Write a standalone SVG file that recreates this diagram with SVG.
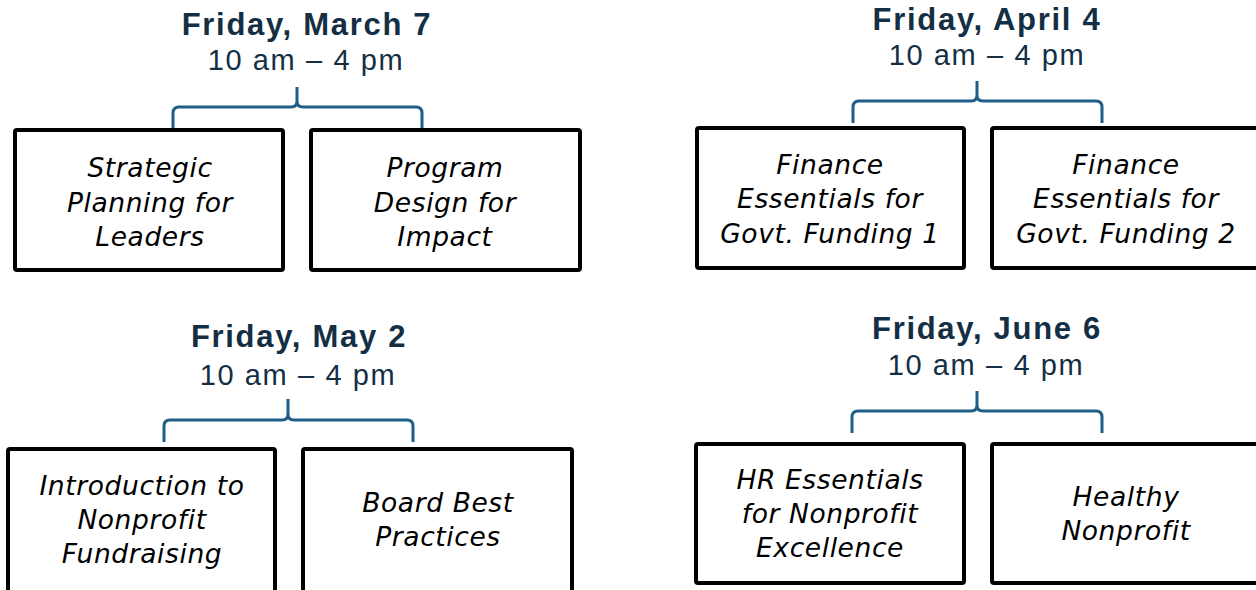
<svg xmlns="http://www.w3.org/2000/svg" width="1256" height="590" viewBox="0 0 1256 590">
<style>
.title{font-family:"Liberation Sans",Arial,sans-serif;font-weight:700;font-size:31px;fill:#142f44;text-anchor:middle;letter-spacing:1.7px}
.time{font-family:"Liberation Sans",Arial,sans-serif;font-weight:400;font-size:29px;fill:#142f44;text-anchor:middle;letter-spacing:1.6px}
.box{fill:#ffffff;stroke:#000000;stroke-width:4;stroke-linejoin:round}
.lbl{font-family:"DejaVu Sans","Open Sans",sans-serif;font-style:italic;font-size:26.5px;fill:#000000;text-anchor:middle;letter-spacing:0.6px}
.brace{fill:none;stroke:#1d5f86;stroke-width:3;stroke-linecap:butt}
</style>
<rect x="0" y="0" width="1256" height="590" fill="#ffffff"/>
<g id="connectors">
<path class="brace" d="M173,128 V113 Q173,107 179,107 H291 Q297,107 297,101 V87 M297,101 Q297,107 303,107 H416 Q422,107 422,113 V128"/>
<path class="brace" d="M853,123 V107 Q853,101 859,101 H971 Q977,101 977,95 V81 M977,95 Q977,101 983,101 H1096 Q1102,101 1102,107 V123"/>
<path class="brace" d="M164,442 V426 Q164,420 170,420 H282 Q288,420 288,414 V399 M288,414 Q288,420 294,420 H407 Q413,420 413,426 V442"/>
<path class="brace" d="M852,433 V417 Q852,411 858,411 H971 Q977,411 977,405 V391 M977,405 Q977,411 983,411 H1096 Q1102,411 1102,417 V433"/>
</g>
<g id="date-march">
<text class="title" x="307" y="35">Friday, March 7</text>
<text class="time" x="306" y="70">10 am – 4 pm</text>
</g>
<g id="node-strategic">
<rect class="box" x="15" y="130" width="268" height="140" rx="2"/>
<text class="lbl" x="150" y="177">Strategic</text>
<text class="lbl" x="150" y="212">Planning for</text>
<text class="lbl" x="150" y="246">Leaders</text>
</g>
<g id="node-program">
<rect class="box" x="311" y="130" width="269" height="140" rx="2"/>
<text class="lbl" x="445" y="177">Program</text>
<text class="lbl" x="445" y="212">Design for</text>
<text class="lbl" x="445" y="246">Impact</text>
</g>
<g id="date-april">
<text class="title" x="987" y="30">Friday, April 4</text>
<text class="time" x="987" y="65">10 am – 4 pm</text>
</g>
<g id="node-finance1">
<rect class="box" x="697" y="128" width="267" height="140" rx="2"/>
<text class="lbl" x="830" y="174">Finance</text>
<text class="lbl" x="830" y="208">Essentials for</text>
<text class="lbl" x="830" y="243">Govt. Funding 1</text>
</g>
<g id="node-finance2">
<rect class="box" x="992" y="128" width="280" height="140" rx="2"/>
<text class="lbl" x="1126" y="174">Finance</text>
<text class="lbl" x="1126" y="208">Essentials for</text>
<text class="lbl" x="1126" y="243">Govt. Funding 2</text>
</g>
<g id="date-may">
<text class="title" x="299" y="347">Friday, May 2</text>
<text class="time" x="298" y="385">10 am – 4 pm</text>
</g>
<g id="node-fundraising">
<rect class="box" x="8" y="449" width="267" height="160" rx="2"/>
<text class="lbl" x="142" y="495">Introduction to</text>
<text class="lbl" x="142" y="529">Nonprofit</text>
<text class="lbl" x="142" y="563">Fundraising</text>
</g>
<g id="node-board">
<rect class="box" x="303" y="449" width="269" height="160" rx="2"/>
<text class="lbl" x="438" y="512">Board Best</text>
<text class="lbl" x="438" y="546">Practices</text>
</g>
<g id="date-june">
<text class="title" x="987" y="339">Friday, June 6</text>
<text class="time" x="986" y="375">10 am – 4 pm</text>
</g>
<g id="node-hr">
<rect class="box" x="696" y="444" width="268" height="139" rx="2"/>
<text class="lbl" x="830" y="489">HR Essentials</text>
<text class="lbl" x="830" y="523">for Nonprofit</text>
<text class="lbl" x="830" y="557">Excellence</text>
</g>
<g id="node-healthy">
<rect class="box" x="992" y="444" width="280" height="139" rx="2"/>
<text class="lbl" x="1126" y="506">Healthy</text>
<text class="lbl" x="1126" y="540">Nonprofit</text>
</g>
</svg>
